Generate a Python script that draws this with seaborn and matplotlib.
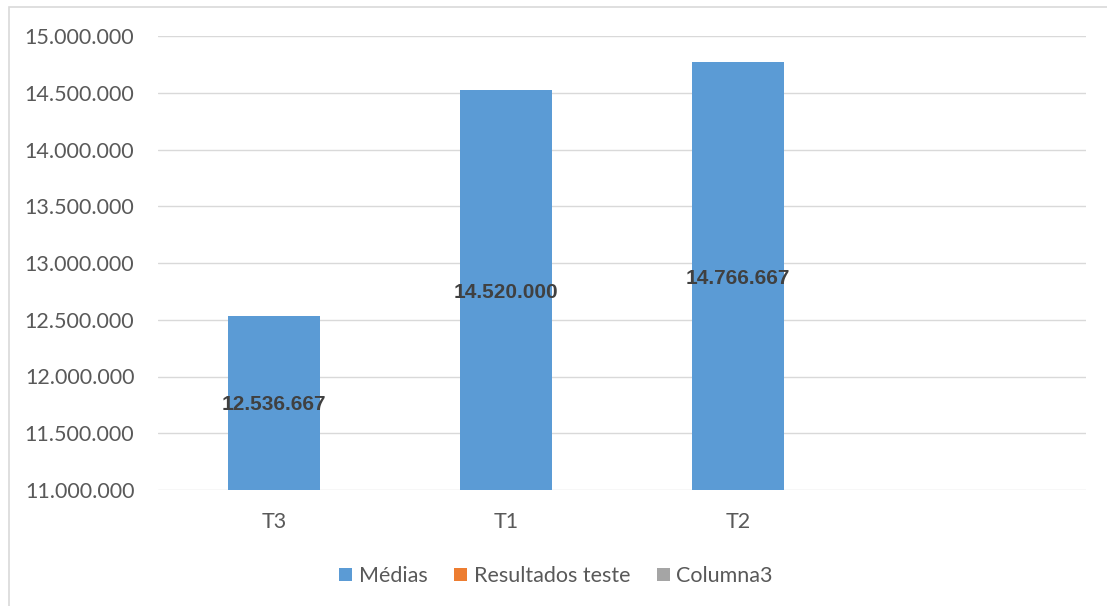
import numpy as np
import pandas as pd
import matplotlib
matplotlib.use('Agg')
import matplotlib.pyplot as plt
import matplotlib.ticker as mticker
from matplotlib.patches import Patch, Rectangle
import seaborn as sns

# data
categories = ['T3', 'T1', 'T2', '']
medias = [12536667, 14520000, 14766667, np.nan]
series_names = ['Médias', 'Resultados teste', 'Columna3']
series_colors = ['#5B9BD5', '#ED7D31', '#A5A5A5']
y_min, y_max, y_step = 11000000, 15000000, 500000

sns.set_theme(style='white')
plt.rcParams['font.family'] = ['Lato', 'DejaVu Sans']

df = pd.DataFrame({'cat': categories, 'val': medias})

fig = plt.figure(figsize=(11.07, 6.06), dpi=100)
ax = fig.add_axes([158/1107, (606-490)/606, (1086-158)/1107, (490-36)/606])

sns.barplot(data=df, x='cat', y='val', order=categories, color=series_colors[0],
            saturation=1, width=0.4, ax=ax, linewidth=0)

ax.set_ylim(y_min, y_max)
ax.set_xlim(-0.5, len(categories) - 0.5)
ax.set_yticks(np.arange(y_min, y_max + 1, y_step))
ax.yaxis.set_major_formatter(mticker.FuncFormatter(lambda v, p: f'{v:,.0f}'.replace(',', '.')))
ax.grid(axis='y', color='#D9D9D9', linewidth=1.0)
ax.set_axisbelow(True)
for s in ax.spines.values():
    s.set_visible(False)
ax.tick_params(axis='both', length=0, labelsize=15.5, colors='#595959')
ax.tick_params(axis='y', pad=17)
ax.tick_params(axis='x', pad=16)
ax.set_xlabel('')
ax.set_ylabel('')

# data labels centred in the visible part of each bar
for i, v in enumerate(medias):
    if np.isnan(v):
        continue
    ax.text(i, (y_min + v) / 2, f'{v:,.0f}'.replace(',', '.'), ha='center', va='center_baseline',
            fontsize=15, fontweight='bold', color='#404040',
            family=['Liberation Sans', 'DejaVu Sans'])

handles = [Patch(facecolor=c, edgecolor='none') for c in series_colors]
fig.legend(handles, series_names, loc='center', bbox_to_anchor=(556/1107, 1 - 576/606),
           ncol=3, frameon=False, fontsize=15.5, labelcolor='#595959',
           handlelength=0.6, handleheight=0.6, handletextpad=0.3, columnspacing=1.25)

# chart area border
fig.add_artist(Rectangle((9/1107, -0.05), 1.2, 1 - 7/606 + 0.05, transform=fig.transFigure,
                         fill=False, edgecolor='#D9D9D9', linewidth=1.2))

fig.savefig('out.png', dpi=100)
